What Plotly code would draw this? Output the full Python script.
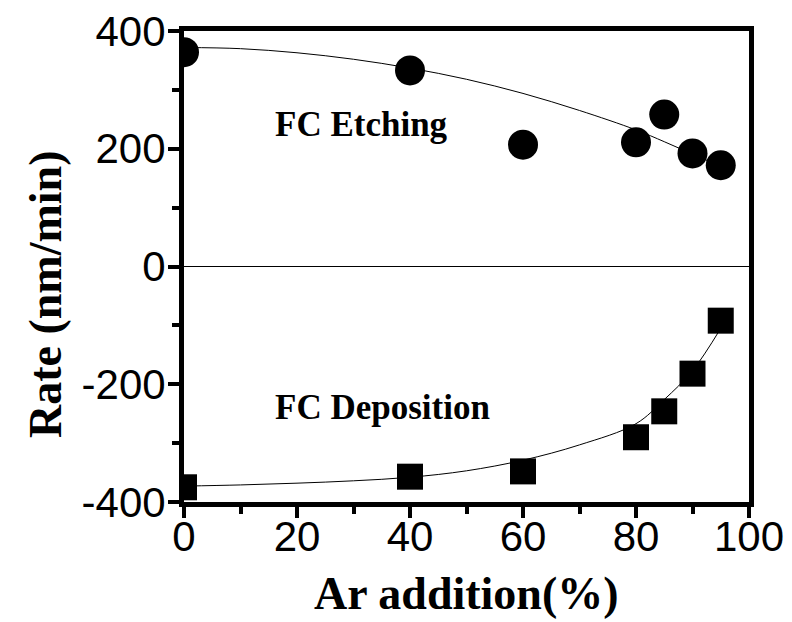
import plotly.graph_objects as go

# Measured rates vs Ar addition
ar_pct = [0, 40, 60, 80, 85, 90, 95]
etch_rate = [364, 333, 207, 211, 258, 192, 172]
dep_rate = [-375, -357, -348, -290, -246, -182, -92]

# Fitted trend curves
fit_x = [0, 10, 20, 30, 40, 50, 60, 70, 80, 85, 90, 95]
etch_fit = [372, 370, 363, 352, 337, 318, 294, 265, 232, 212, 191, 170]
dep_fit = [-373, -371, -368, -364, -358, -347, -329, -303, -267, -226, -177, -105]

x_ticks = [0, 20, 40, 60, 80, 100]
x_labels = ["0", "20", "40", "60", "80", "100"]
y_ticks = [-400, -200, 0, 200, 400]
y_labels = ["-400", "-200", "0", "200", "400"]

serif = "Liberation Serif"
sans = "Liberation Sans"

W, H = 792, 622
ML, MR, MT, MB = 184, 43, 31, 120
PW, PH = W - ML - MR, H - MT - MB

fig = go.Figure()
fig.add_trace(go.Scatter(x=fit_x, y=etch_fit, mode="lines",
                         line=dict(color="black", width=1, shape="spline"),
                         showlegend=False, hoverinfo="skip"))
fig.add_trace(go.Scatter(x=fit_x, y=dep_fit, mode="lines",
                         line=dict(color="black", width=1, shape="spline"),
                         showlegend=False, hoverinfo="skip"))
fig.add_trace(go.Scatter(x=ar_pct, y=etch_rate, mode="markers",
                         marker=dict(symbol="circle", size=30, color="black"),
                         name="FC Etching", showlegend=False))
fig.add_trace(go.Scatter(x=ar_pct, y=dep_rate, mode="markers",
                         marker=dict(symbol="square", size=26, color="black"),
                         name="FC Deposition", showlegend=False))

fig.add_annotation(x=15.7, y=241, xref="x", yref="y", text="<b>FC Etching</b>",
                   showarrow=False, xanchor="left", yanchor="middle",
                   font=dict(family=serif, size=35, color="black"))
fig.add_annotation(x=15.7, y=-240, xref="x", yref="y", text="<b>FC Deposition</b>",
                   showarrow=False, xanchor="left", yanchor="middle",
                   font=dict(family=serif, size=35, color="black"))
# y axis title placed in pixel terms relative to the plot area
fig.add_annotation(x=(45 - ML) / PW, y=1 - (295 - MT) / PH,
                   xref="paper", yref="paper", text="<b>Rate (nm/min)</b>",
                   showarrow=False, textangle=-90, xanchor="center", yanchor="middle",
                   font=dict(family=serif, size=46, color="black"))
# x axis title, kept inside the bottom edge of the figure
fig.add_annotation(x=0.5, y=1 - (H - 1 - MT) / PH,
                   xref="paper", yref="paper", text="<b>Ar addition(%)</b>",
                   showarrow=False, xanchor="center", yanchor="bottom",
                   font=dict(family=serif, size=46, color="black"))

axis_common = dict(
    showgrid=False, showline=True, linecolor="black", linewidth=5, mirror=True,
    ticks="outside", tickcolor="black", tickwidth=4, ticklen=11,
    tickfont=dict(family=sans, size=42, color="black"), automargin=False,
)

fig.update_xaxes(range=[0, 100], tickvals=x_ticks, ticktext=x_labels, zeroline=False,
                 ticklabelstandoff=-17,
                 minor=dict(ticks="outside", ticklen=7, tickwidth=4, tickcolor="black",
                            dtick=10, tick0=0, showgrid=False),
                 **axis_common)
fig.update_yaxes(range=[-400, 400], tickvals=y_ticks, ticktext=y_labels, zeroline=True,
                 zerolinecolor="black", zerolinewidth=1, ticklabelstandoff=-6,
                 minor=dict(ticks="outside", ticklen=7, tickwidth=4, tickcolor="black",
                            dtick=100, tick0=0, showgrid=False),
                 **axis_common)

fig.update_layout(
    width=W, height=H,
    margin=dict(l=ML, r=MR, t=MT, b=MB),
    plot_bgcolor="white", paper_bgcolor="white",
)

fig.write_html("out.html")
